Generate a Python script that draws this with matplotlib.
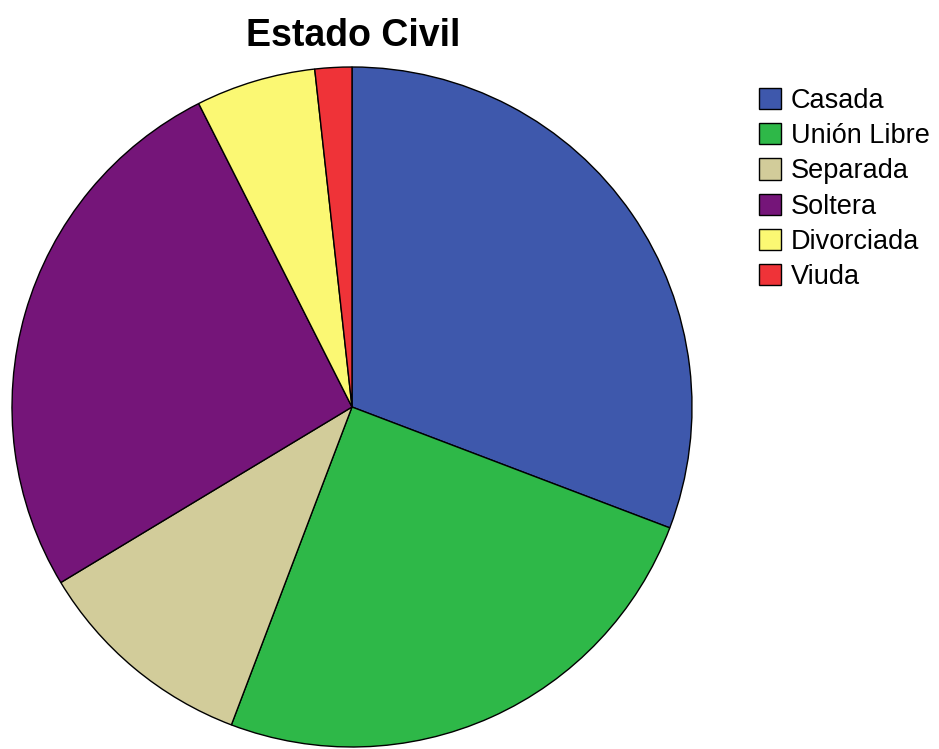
import matplotlib.pyplot as plt

# Estado civil de las participantes (porcentajes)
categories = ['Casada', 'Unión Libre', 'Separada', 'Soltera', 'Divorciada', 'Viuda']
percent = [30.8, 25.0, 10.6, 26.2, 5.7, 1.75]
colors = ['#3e58ac', '#2eb848', '#d2cc9a', '#751579', '#fbf873', '#ef3338']

plt.rcParams['font.family'] = ['Liberation Sans', 'DejaVu Sans']

fig = plt.figure(figsize=(9.39, 7.49), dpi=100)
ax = fig.add_axes([12 / 939, 2 / 749, 680 / 939, 680 / 749])

wedges, _ = ax.pie(percent, colors=colors, startangle=90, counterclock=False,
                   radius=1.0, wedgeprops=dict(edgecolor='black', linewidth=1.0))
ax.set_xlim(-1.0, 1.0)
ax.set_ylim(-1.0, 1.0)
ax.set_aspect('auto')
ax.axis('off')

fig.text(353 / 939, 1 - 36 / 749, 'Estado Civil', ha='center', va='center',
         fontsize=27, fontweight='bold')

fig.legend(wedges, categories, loc='upper left',
           bbox_to_anchor=(759 / 939, 1 - 88 / 749), frameon=False,
           fontsize=19.5, handlelength=0.82, handleheight=0.82,
           handletextpad=0.36, labelspacing=0.34, borderpad=0,
           borderaxespad=0)

fig.savefig('out.png', dpi=100)
